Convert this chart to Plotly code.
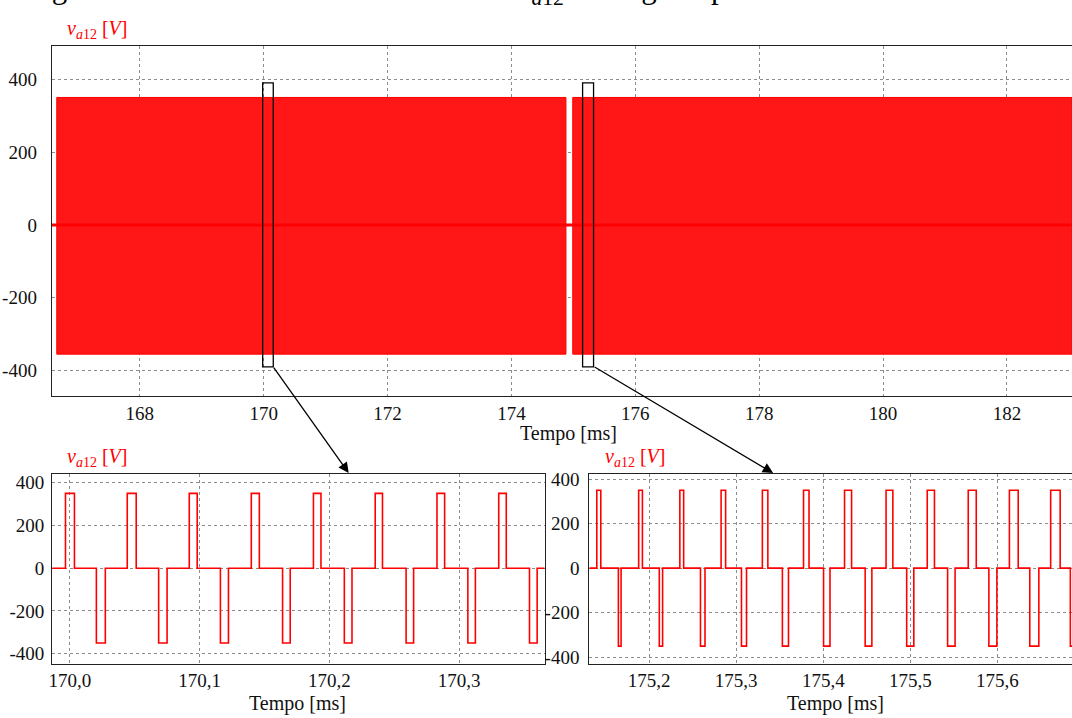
import plotly.graph_objects as go

# ---------------- data ----------------
# Overview panel: intervals (ms) in which v_a12 keeps switching between the DC levels
switch_start = [166.66, 174.99]
switch_end = [174.88, 183.05]
band_high = 350
band_low = -355
overview_range = [166.58, 183.05]

# Detail windows marked on the overview (ms)
win_start = [169.984, 175.149]
win_end = [170.155, 175.326]
win_half_height = 390

# Pulse level in the detail panels (V)
v_level = 350

# Detail 1 (around 170.0 ms): edges of positive and negative pulses (ms)
pos_rise_a = [169.9967, 170.0443, 170.0921, 170.1399, 170.1878, 170.2354, 170.2830, 170.3306]
pos_fall_a = [170.0036, 170.0512, 170.0982, 170.1461, 170.1936, 170.2410, 170.2889, 170.3364]
neg_fall_a = [170.0205, 170.0685, 170.1161, 170.1640, 170.2116, 170.2592, 170.3068, 170.3543]
neg_rise_a = [170.0274, 170.0750, 170.1223, 170.1699, 170.2175, 170.2650, 170.3126, 170.3602]
detail_a_range = [169.9864, 170.366]

# Detail 2 (around 175.4 ms)
pos_rise_b = [175.1398, 175.1879, 175.2352, 175.2826, 175.3300, 175.3773,
              175.4244, 175.4721, 175.5194, 175.5665, 175.6138, 175.6612]
pos_fall_b = [175.1444, 175.1922, 175.2396, 175.2878, 175.3363, 175.3836,
              175.4325, 175.4799, 175.5277, 175.5757, 175.6239, 175.6721]
neg_fall_b = [175.1646, 175.2116, 175.2589, 175.3060, 175.3530, 175.4003,
              175.4481, 175.4958, 175.5428, 175.5902, 175.6372, 175.6838]
neg_rise_b = [175.1677, 175.2154, 175.2641, 175.3118, 175.3600, 175.4077,
              175.4558, 175.5040, 175.5514, 175.5994, 175.6476, 175.6950]
detail_b_range = [175.1312, 175.6857]

overview_ticks = [168, 170, 172, 174, 176, 178, 180, 182]
detail_a_ticks = [170.0, 170.1, 170.2, 170.3]
detail_b_ticks = [175.2, 175.3, 175.4, 175.5, 175.6]
v_ticks = [-400, -200, 0, 200, 400]

caption = "Figura 3.14 – Forma de onda da tensão <i>v</i><sub><i>a</i>12</sub> em regime permanente."

# ---------------- helpers ----------------
W, H = 1072, 718


def px(x):
    return x / W


def py(y):
    return 1 - y / H


def comma(v, nd):
    return f"{v:.{nd}f}".replace(".", ",")


def pulse_train(t0, t1, pr, pf, nf, nr, level):
    pulses = [(a, b, level) for a, b in zip(pr, pf)] + [(a, b, -level) for a, b in zip(nf, nr)]
    pulses.sort()
    xs, ys = [t0], [0]
    for a, b, lv in pulses:
        xs += [a, a, b, b]
        ys += [0, lv, lv, 0]
    xs.append(t1)
    ys.append(0)
    return xs, ys


RED = "#ff0000"
FONT = "Liberation Serif"

fig = go.Figure()

# overview: switching bands
for s, e in zip(switch_start, switch_end):
    fig.add_trace(go.Scatter(
        x=[s, s, e, e, s], y=[band_low, band_high, band_high, band_low, band_low],
        mode="lines", fill="toself", fillcolor="rgb(255,22,22)",
        line=dict(color=RED, width=1), hoverinfo="skip", showlegend=False,
        xaxis="x", yaxis="y"))
# overview: zero-level segments
fig.add_trace(go.Scatter(x=overview_range, y=[0, 0], mode="lines",
                         line=dict(color=RED, width=3), showlegend=False,
                         xaxis="x", yaxis="y"))

# detail traces
xa, ya = pulse_train(detail_a_range[0], detail_a_range[1], pos_rise_a, pos_fall_a,
                     neg_fall_a, neg_rise_a, v_level)
fig.add_trace(go.Scatter(x=xa, y=ya, mode="lines", line=dict(color=RED, width=1.6),
                         showlegend=False, xaxis="x2", yaxis="y2"))
xb, yb = pulse_train(detail_b_range[0], detail_b_range[1] + 0.02, pos_rise_b, pos_fall_b,
                     neg_fall_b, neg_rise_b, v_level)
fig.add_trace(go.Scatter(x=xb, y=yb, mode="lines", line=dict(color=RED, width=1.6),
                         showlegend=False, xaxis="x3", yaxis="y3"))

# windows on the overview
for s, e in zip(win_start, win_end):
    fig.add_shape(type="rect", xref="x", yref="y", x0=s, x1=e,
                  y0=-win_half_height, y1=win_half_height,
                  line=dict(color="black", width=1.3), fillcolor="rgba(0,0,0,0)")

grid = dict(showgrid=True, gridcolor="#8c8c8c", griddash="dot", gridwidth=1,
            zeroline=False, ticks="", showline=True, linecolor="#222", linewidth=1.2,
            tickfont=dict(family=FONT, size=19, color="#111"))

fig.update_layout(
    width=W, height=H, margin=dict(l=0, r=0, t=0, b=0),
    paper_bgcolor="white", plot_bgcolor="white", showlegend=False,
    xaxis=dict(domain=[px(48), 1], range=overview_range, tickvals=overview_ticks,
               ticktext=[str(t) for t in overview_ticks], anchor="y", mirror=True,
               ticklabelstandoff=0, **grid),
    yaxis=dict(domain=[py(396), py(42)], range=[-470, 490], tickvals=v_ticks,
               ticktext=[str(v) for v in v_ticks], anchor="x", mirror=False,
               ticklabelstandoff=10, **grid),
    xaxis2=dict(domain=[px(48.3), px(542.7)], range=detail_a_range, tickvals=detail_a_ticks,
                ticktext=[comma(t, 1) for t in detail_a_ticks], anchor="y2", mirror=True,
                ticklabelstandoff=-1, **grid),
    yaxis2=dict(domain=[py(667.5), py(474.5)], range=[-449, 443], tickvals=v_ticks,
                ticktext=[str(v) for v in v_ticks], anchor="x2", mirror=True,
                ticklabelstandoff=3, **grid),
    xaxis3=dict(domain=[px(587.5), 1], range=detail_b_range, tickvals=detail_b_ticks,
                ticktext=[comma(t, 1) for t in detail_b_ticks], anchor="y3", mirror=True,
                ticklabelstandoff=-1, **grid),
    yaxis3=dict(domain=[py(667.5), py(474.5)], range=[-431, 425], tickvals=v_ticks,
                ticktext=[str(v) for v in v_ticks], anchor="x3", mirror=False,
                ticklabelstandoff=5, **grid),
)

ylabel = "<i>v</i><sub><i>a</i>12</sub> [<i>V</i>]"
annotations = []
# document caption line above the figure
annotations.append(dict(x=px(20), y=py(7.5), xref="paper", yref="paper", text=caption,
                        showarrow=False, xanchor="left", yanchor="bottom",
                        font=dict(family=FONT, size=31, color="black")))
for x, y in [(61, 25), (61, 458), (601, 458)]:
    annotations.append(dict(x=px(x), y=py(y), xref="paper", yref="paper", text=ylabel,
                            showarrow=False, xanchor="left", yanchor="middle",
                            font=dict(family=FONT, size=20, color=RED)))
for x, y in [(567, 434), (295, 707), (835, 707)]:
    annotations.append(dict(x=px(x), y=py(y), xref="paper", yref="paper", text="Tempo [ms]",
                            showarrow=False, xanchor="center", yanchor="middle",
                            font=dict(family=FONT, size=20, color="#111")))
# arrows from the windows to the detail panels
for (x0, y0), (x1, y1) in [((270, 367), (346, 474)), ((592, 367), (772, 474))]:
    annotations.append(dict(x=px(x1), y=py(y1), ax=x0 - x1, ay=y0 - y1,
                            xref="paper", yref="paper", axref="pixel", ayref="pixel",
                            text="", showarrow=True, arrowhead=2, arrowsize=1.6,
                            arrowwidth=1.3, arrowcolor="black"))
fig.update_layout(annotations=annotations)

fig.write_html("out.html")
